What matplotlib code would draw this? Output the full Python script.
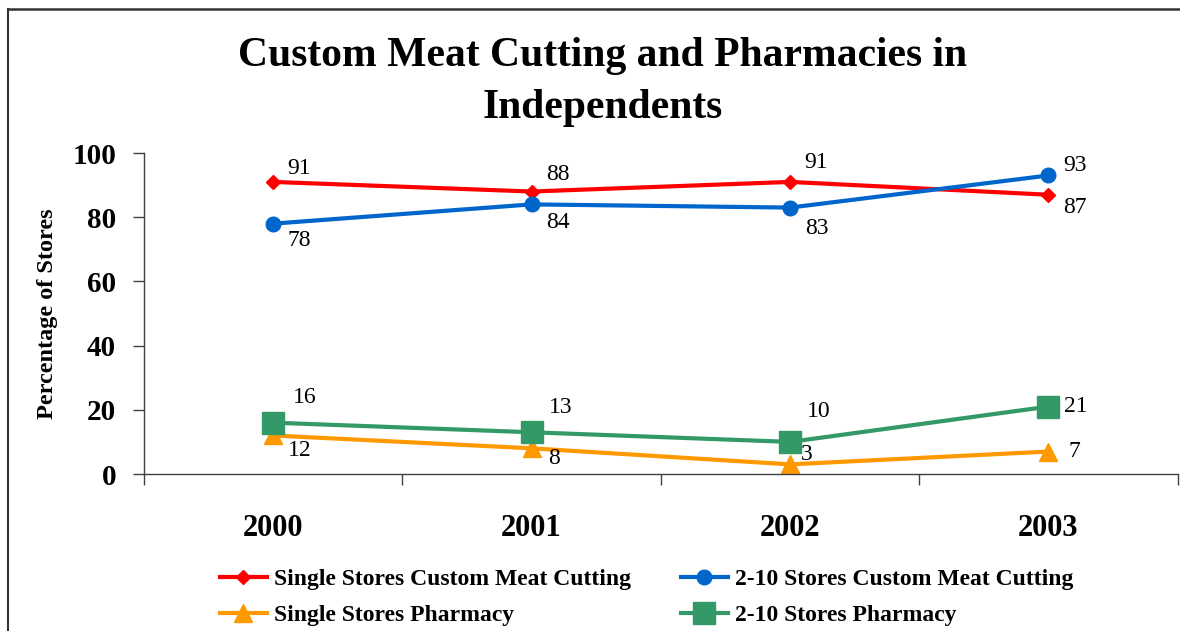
import matplotlib.pyplot as plt
from matplotlib.lines import Line2D

years = ['2000', '2001', '2002', '2003']
single_meat = [91, 88, 91, 87]
multi_meat = [78, 84, 83, 93]
single_pharm = [12, 8, 3, 7]
multi_pharm = [16, 13, 10, 21]

plt.rcParams['font.family'] = ['Liberation Serif', 'DejaVu Serif']

fig = plt.figure(figsize=(11.8, 6.31), dpi=100)
ax = fig.add_axes([0.122, 0.2488, 0.876, 0.5087])

x = range(len(years))
# (values, label, colour, marker, markersize, label offsets in points)
series = [
    (single_meat, 'Single Stores Custom Meat Cutting', '#FF0000', 'D', 7.5,
     [(19, 10), (19, 12), (19, 14), (19, -9)]),
    (single_pharm, 'Single Stores Pharmacy', '#FF9900', '^', 12.5,
     [(19, -11), (16, -7), (12, 7), (19, 0)]),
    (multi_meat, '2-10 Stores Custom Meat Cutting', '#0066CC', 'o', 10.5,
     [(19, -12), (19, -13), (19, -15), (19, 7)]),
    (multi_pharm, '2-10 Stores Pharmacy', '#339966', 's', 16,
     [(23, 18), (21, 18), (21, 22), (20, 0)]),
]

handles = []
for vals, label, color, marker, ms, offs in series:
    ln, = ax.plot(x, vals, color=color, lw=3, marker=marker, ms=ms,
                  mec=color, mfc=color, label=label, clip_on=False)
    handles.append(ln)
    for xi, v, off in zip(x, vals, offs):
        ax.annotate(str(v), (xi, v), xytext=off, textcoords='offset points',
                    ha='center', va='center', fontsize=17, color='black')

ax.set_xlim(-0.5, 3.5)
ax.set_ylim(0, 100)
ax.set_yticks(range(0, 101, 20))
ax.set_xticks(list(x))
ax.set_xticklabels(years)
ax.set_xticks([-0.5, 0.5, 1.5, 2.5, 3.5], minor=True)
ax.tick_params(axis='x', which='major', length=0, pad=29, labelsize=22)
ax.tick_params(axis='x', which='minor', length=8, width=1, color='#404040')
ax.tick_params(axis='y', length=8, width=1, color='#404040', pad=12, labelsize=21)
for lbl in ax.get_xticklabels() + ax.get_yticklabels():
    lbl.set_fontweight('bold')

for side in ['top', 'right']:
    ax.spines[side].set_visible(False)
for side in ['left', 'bottom']:
    ax.spines[side].set_color('#404040')
    ax.spines[side].set_linewidth(1)

ax.set_ylabel('Percentage of Stores', fontsize=17.5, fontweight='bold', labelpad=10)

fig.text(0.511, 0.870, 'Custom Meat Cutting and Pharmacies in\nIndependents',
         ha='center', va='center', fontsize=30, fontweight='bold', linespacing=1.5)

fig.legend(handles=handles, loc='center', bbox_to_anchor=(0.548, 0.053), ncol=2,
           frameon=False, prop={'size': 17, 'weight': 'bold'},
           handlelength=2.0, handletextpad=0.3, columnspacing=2.1, labelspacing=0.6)

# outer frame
fig.add_artist(Line2D([8 / 1180, 1], [1 - 9 / 631, 1 - 9 / 631], color='#333333', lw=1.8))
fig.add_artist(Line2D([8 / 1180, 8 / 1180], [0, 1 - 9 / 631], color='#333333', lw=1.5))

fig.savefig('out.png', dpi=100)
